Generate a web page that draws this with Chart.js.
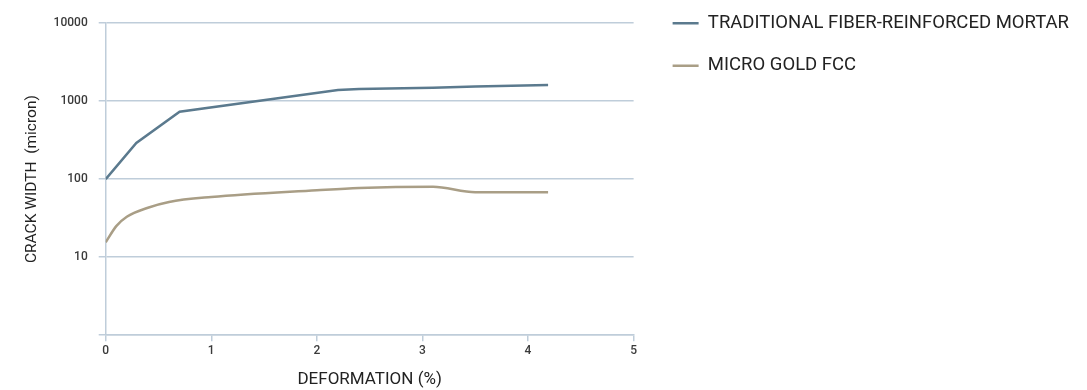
<!DOCTYPE html>
<html lang="en">
<head>
    <meta charset="UTF-8">
    <title>Crack width vs deformation</title>
    <script src="https://cdn.jsdelivr.net/npm/chart.js"></script>
    <style>
        body {
            margin: 0;
            background: #fff;
        }
        .wrap {
            width: 1087px;
            height: 390px;
        }
    </style>
</head>
<body>
    <div class="wrap">
        <canvas id="crackChart"></canvas>
    </div>
    <script>
        const seriesNames = ['TRADITIONAL FIBER-REINFORCED MORTAR', 'MICRO GOLD FCC'];

        const mortarX = [0, 0.29, 0.7, 2.2, 2.4, 3.1, 3.5, 4.19];
        const mortarY = [100, 290, 730, 1390, 1430, 1480, 1540, 1610];

        const fccX = [0, 0.1, 0.2, 0.4, 0.6, 1, 2, 2.4, 3.1, 3.5, 4.19];
        const fccY = [15.5, 25, 33, 43, 51, 59, 72, 77, 80, 68, 68];

        const yTicks = [10, 100, 1000, 10000];

        const gridColor = '#bfcdda';
        const textColor = '#3a3a3a';
        const legendPad = 24;

        const toPoints = (xs, ys) => xs.map((x, i) => ({ x: x, y: ys[i] }));

        // the right legend is wider than chart.js allows by default, and sits a bit higher
        const legendPlacement = {
            id: 'legendPlacement',
            beforeLayout(chart) {
                const lg = chart.legend;
                if (lg && !lg._wide) {
                    const orig = lg.update.bind(lg);
                    lg.update = (w, h, m) => orig(Math.max(w, 470), h, m);
                    lg._wide = true;
                }
            },
            afterLayout(chart) {
                const lg = chart.legend;
                const dy = (14 - legendPad) - lg.top;
                lg.top += dy;
                lg.bottom += dy;
                lg.left += 15;
                lg.right += 15;
            }
        };

        const ctx = document.getElementById('crackChart').getContext('2d');

        const chart = new Chart(ctx, {
            type: 'line',
            data: {
                datasets: [{
                    label: seriesNames[0],
                    data: toPoints(mortarX, mortarY),
                    borderColor: '#5b7a8e',
                    backgroundColor: '#5b7a8e',
                    borderWidth: 2.5,
                    pointRadius: 0,
                    tension: 0
                }, {
                    label: seriesNames[1],
                    data: toPoints(fccX, fccY),
                    borderColor: '#a99e86',
                    backgroundColor: '#a99e86',
                    borderWidth: 2.5,
                    pointRadius: 0,
                    cubicInterpolationMode: 'monotone'
                }]
            },
            options: {
                responsive: true,
                maintainAspectRatio: false,
                animation: false,
                layout: {
                    padding: { top: 23, right: 23, left: 15, bottom: 0 }
                },
                plugins: {
                    tooltip: { enabled: false },
                    legend: {
                        position: 'right',
                        align: 'start',
                        labels: {
                            usePointStyle: true,
                            pointStyle: 'line',
                            pointStyleWidth: 26,
                            padding: legendPad,
                            color: '#222',
                            font: { family: 'Roboto', size: 18.5 }
                        }
                    }
                },
                scales: {
                    x: {
                        type: 'linear',
                        min: 0,
                        max: 5,
                        ticks: {
                            stepSize: 1,
                            color: textColor,
                            padding: 3,
                            font: { family: 'Roboto', size: 12, weight: '500' }
                        },
                        grid: {
                            drawOnChartArea: false,
                            drawTicks: true,
                            tickLength: 6,
                            color: gridColor,
                            lineWidth: 1.5
                        },
                        border: { color: gridColor, width: 1.5 },
                        title: {
                            display: true,
                            text: 'DEFORMATION (%)',
                            color: '#222',
                            padding: { top: 8, bottom: 0 },
                            font: { family: 'Roboto', size: 17 }
                        }
                    },
                    y: {
                        type: 'logarithmic',
                        min: 1,
                        max: 10000,
                        afterBuildTicks: axis => {
                            axis.ticks = [1].concat(yTicks).map(v => ({ value: v }));
                        },
                        ticks: {
                            color: textColor,
                            padding: 11,
                            font: { family: 'Roboto', size: 12, weight: '500' },
                            callback: v => (yTicks.includes(v) ? String(v) : '')
                        },
                        grid: {
                            color: gridColor,
                            lineWidth: 1.5,
                            tickLength: 7
                        },
                        border: { color: gridColor, width: 1.5 },
                        title: {
                            display: true,
                            text: 'CRACK WIDTH  (micron)',
                            color: '#222',
                            padding: { top: 8, bottom: 1 },
                            font: { family: 'Roboto', size: 15.5 }
                        }
                    }
                }
            },
            plugins: [legendPlacement]
        });
    </script>
</body>
</html>
